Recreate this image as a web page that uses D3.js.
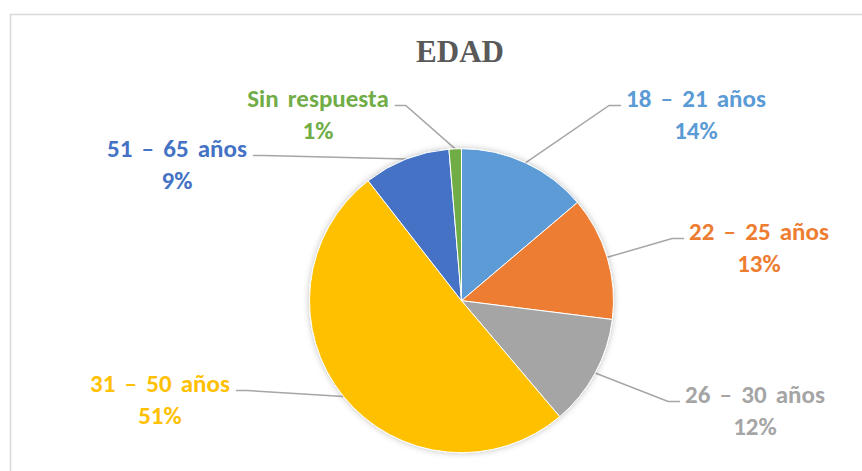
<!DOCTYPE html>
<html>
<head>
<meta charset="utf-8">
<script src="https://cdn.jsdelivr.net/npm/d3@7"></script>
<style>
  html, body { margin: 0; padding: 0; background: #fff; }
</style>
</head>
<body>
<div id="chart"></div>
<script>
// Data (counts, shown as rounded percentages)
const categories = ["18 – 21 años", "22 – 25 años", "26 – 30 años", "31 – 50 años", "51 – 65 años", "Sin respuesta"];
const counts = [21, 20, 18, 77, 14, 2];
const colors = ["#5B9BD5", "#ED7D31", "#A5A5A5", "#FFC000", "#4472C4", "#70AD47"];

// label layout: centre of text block, and which side of the pie it sits on
const labelPos = [
  { x: 696, y: 107, side: "right" },
  { x: 759, y: 240, side: "right" },
  { x: 755, y: 403, side: "right" },
  { x: 160, y: 392, side: "left" },
  { x: 177, y: 157, side: "left" },
  { x: 318, y: 107, side: "left" }
];

const width = 862, height = 471;
const cx = 461.5, cy = 300.7, radius = 152;
const lineGap = 31.6;

const svg = d3.select("#chart")
  .append("svg")
  .attr("width", width)
  .attr("height", height)
  .style("font-family", "Carlito, Lato, 'Open Sans', sans-serif");

svg.append("rect")
  .attr("width", width)
  .attr("height", height)
  .attr("fill", "#fff");

// chart area border
svg.append("rect")
  .attr("x", 10.5)
  .attr("y", 14.5)
  .attr("width", 900)
  .attr("height", 500)
  .attr("fill", "none")
  .attr("stroke", "#d9d9d9")
  .attr("stroke-width", 1.5);

// soft shadow under the pie
const defs = svg.append("defs");
const filter = defs.append("filter")
  .attr("id", "shadow")
  .attr("x", "-10%").attr("y", "-10%")
  .attr("width", "120%").attr("height", "120%");
filter.append("feDropShadow")
  .attr("dx", 0)
  .attr("dy", 0)
  .attr("stdDeviation", 3)
  .attr("flood-color", "#000")
  .attr("flood-opacity", 0.25);

svg.append("text")
  .attr("x", 460)
  .attr("y", 62)
  .attr("text-anchor", "middle")
  .attr("font-family", "'Liberation Serif', 'Times New Roman', serif")
  .attr("font-weight", "bold")
  .attr("font-size", 31)
  .attr("fill", "#595959")
  .text("EDAD");

const total = d3.sum(counts);
const rows = categories.map((c, i) => ({ name: c, value: counts[i], color: colors[i], pos: labelPos[i] }));

const pie = d3.pie()
  .value(d => d.value)
  .sort(null);

const arc = d3.arc()
  .innerRadius(0)
  .outerRadius(radius);

const arcs = pie(rows);

const g = svg.append("g")
  .attr("transform", `translate(${cx},${cy})`);

g.append("g")
  .attr("filter", "url(#shadow)")
  .selectAll("path")
  .data(arcs)
  .enter()
  .append("path")
  .attr("d", arc)
  .attr("fill", d => d.data.color)
  .attr("stroke", "#fff")
  .attr("stroke-width", 1);

// labels
const labels = svg.append("g")
  .selectAll("text")
  .data(arcs)
  .enter()
  .append("text")
  .attr("text-anchor", "middle")
  .attr("font-weight", "bold")
  .attr("font-size", 25)
  .attr("word-spacing", 3.5)
  .attr("fill", d => d.data.color);

labels.append("tspan")
  .attr("x", d => d.data.pos.x)
  .attr("y", d => d.data.pos.y)
  .text(d => d.data.name);

labels.append("tspan")
  .attr("x", d => d.data.pos.x)
  .attr("y", d => d.data.pos.y + lineGap)
  .text(d => Math.round(d.data.value / total * 100) + "%");

// leader lines: pie edge at mid angle -> elbow -> next to the first text line
labels.each(function(d) {
  const first = d3.select(this).select("tspan").node();
  const w = first.getComputedTextLength();
  const ly = d.data.pos.y - 1.5;
  const mid = (d.startAngle + d.endAngle) / 2;
  const px = cx + radius * Math.sin(mid);
  const py = cy - radius * Math.cos(mid);
  let endX, elbowX;
  if (d.data.pos.side === "right") {
    endX = d.data.pos.x - w / 2 - 5;
    elbowX = endX - 12;
  } else {
    endX = d.data.pos.x + w / 2 + 6;
    elbowX = endX + 11;
  }
  svg.insert("path", "g")
    .attr("d", d3.line()([[px, py], [elbowX, ly], [endX, ly]]))
    .attr("fill", "none")
    .attr("stroke", "#a6a6a6")
    .attr("stroke-width", 1.5);
});
</script>
</body>
</html>
